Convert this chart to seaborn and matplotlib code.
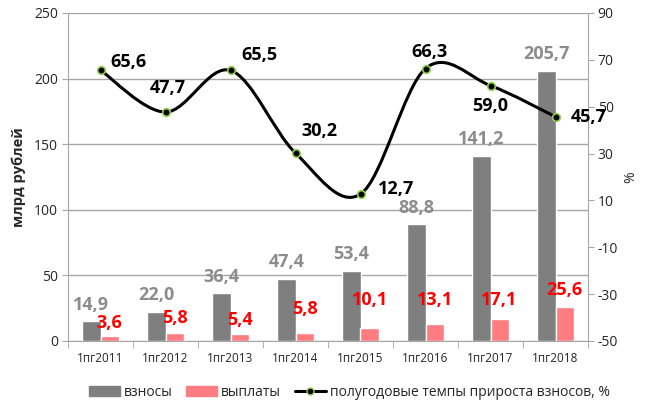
import matplotlib
matplotlib.use("Agg")
import matplotlib.pyplot as plt
import numpy as np
import pandas as pd
import seaborn as sns
from matplotlib.lines import Line2D
from matplotlib.patches import Patch, PathPatch
from matplotlib.path import Path

periods = ["1пг2011", "1пг2012", "1пг2013", "1пг2014", "1пг2015", "1пг2016", "1пг2017", "1пг2018"]
contributions = [14.9, 22.0, 36.4, 47.4, 53.4, 88.8, 141.2, 205.7]
payouts = [3.6, 5.8, 5.4, 5.8, 10.1, 13.1, 17.1, 25.6]
growth = [65.6, 47.7, 65.5, 30.2, 12.7, 66.3, 59.0, 45.7]

# label placement (offsets in points / data y for red labels)
payout_label_y = [13.7, 17.5, 16.0, 24.4, 31.2, 31.2, 31.2, 38.9]
growth_label_off = [(20, 6), (2, 17), (21, 11), (17, 16), (26, 4), (3, 12), (0, -15), (24, 0)]

GRAY = "#7f7f7f"
PINK = "#ff7c80"
LABEL_GRAY = "#8c8c8c"

sns.set_style("white")
plt.rcParams["font.family"] = ["Open Sans", "DejaVu Sans"]
plt.rcParams["axes.unicode_minus"] = False

fig = plt.figure(figsize=(6.47, 4.04), dpi=100)
ax = fig.add_axes([68 / 647, 63 / 404, 520 / 647, 328 / 404])

df = pd.DataFrame({
    "period": periods * 2,
    "kind": ["взносы"] * len(periods) + ["выплаты"] * len(periods),
    "value": contributions + payouts,
})
sns.barplot(data=df, x="period", y="value", hue="kind", palette=[GRAY, PINK],
            width=0.56, saturation=1, legend=False, ax=ax)

ax.set_xlim(-0.5, len(periods) - 0.5)
ax.set_ylim(0, 250)
ax.set_yticks(range(0, 251, 50))
ax.yaxis.grid(True, color="#a6a6a6", lw=1)
ax.set_axisbelow(True)
ax.set_xlabel("")
ax.set_ylabel("млрд рублей", fontsize=10.5, fontweight="bold", labelpad=6)
ax.tick_params(axis="y", labelsize=10, length=4, color="#a6a6a6", left=True, pad=3)
ax.tick_params(axis="x", which="major", length=0, labelsize=8.5, pad=8)
ax.set_xticks(np.arange(-0.5, len(periods)), minor=True)
ax.tick_params(axis="x", which="minor", length=5, color="#a6a6a6", bottom=True)
for side in ["left", "bottom"]:
    ax.spines[side].set_color("#a6a6a6")
ax.spines["top"].set_visible(False)
ax.spines["right"].set_visible(False)

x = np.arange(len(periods))
for i, v in enumerate(contributions):
    ax.annotate(f"{v:.1f}".replace(".", ","), (x[i] - 0.14, v), xytext=(0, 12),
                textcoords="offset points", ha="center", va="center",
                fontsize=13, fontweight="bold", color=LABEL_GRAY)
for i, v in enumerate(payouts):
    ax.text(x[i] + 0.14, payout_label_y[i], f"{v:.1f}".replace(".", ","),
            ha="center", va="center", fontsize=13, fontweight="bold", color="red")

ax2 = ax.twinx()
ax2.set_ylim(-50, 90)
ax2.set_yticks(range(-50, 91, 20))
ax2.set_ylabel("%", fontsize=10, labelpad=4)
ax2.tick_params(axis="y", labelsize=10, length=4, color="#a6a6a6", right=True, pad=3)
for side in ["left", "bottom", "top"]:
    ax2.spines[side].set_visible(False)
ax2.spines["right"].set_color("#a6a6a6")

# smoothed line (Catmull-Rom style bezier, as in Excel)
pts = np.column_stack([x, growth]).astype(float)
verts = [tuple(pts[0])]
codes = [Path.MOVETO]
n = len(pts)
for i in range(n - 1):
    p0 = pts[i - 1] if i > 0 else pts[i]
    p1, p2 = pts[i], pts[i + 1]
    p3 = pts[i + 2] if i + 2 < n else pts[i + 1]
    c1 = p1 + (p2 - p0) / 6
    c2 = p2 - (p3 - p1) / 6
    verts += [tuple(c1), tuple(c2), tuple(p2)]
    codes += [Path.CURVE4] * 3
ax2.add_patch(PathPatch(Path(verts, codes), fill=False, lw=2.2, color="black", zorder=3))
ax2.plot(x, growth, ls="none", marker="o", ms=5.5, mfc="black", mec="#92d050", mew=1.2, zorder=4)
for i, v in enumerate(growth):
    ax2.annotate(f"{v:.1f}".replace(".", ","), (x[i], v), xytext=growth_label_off[i],
                 textcoords="offset points", ha="center", va="center",
                 fontsize=13, fontweight="bold", color="black")

handles = [
    Patch(color=GRAY, label="взносы"),
    Patch(color=PINK, label="выплаты"),
    Line2D([0], [0], color="black", lw=2.2, marker="o", ms=5, mfc="black", mec="#92d050",
           label="полугодовые темпы прироста взносов, %"),
]
fig.legend(handles=handles, loc="lower center", bbox_to_anchor=(0.54, -0.02), ncol=3,
           frameon=False, fontsize=10, handlelength=2.2, handletextpad=0.3, columnspacing=1.0)

fig.savefig("out.png", dpi=100)
